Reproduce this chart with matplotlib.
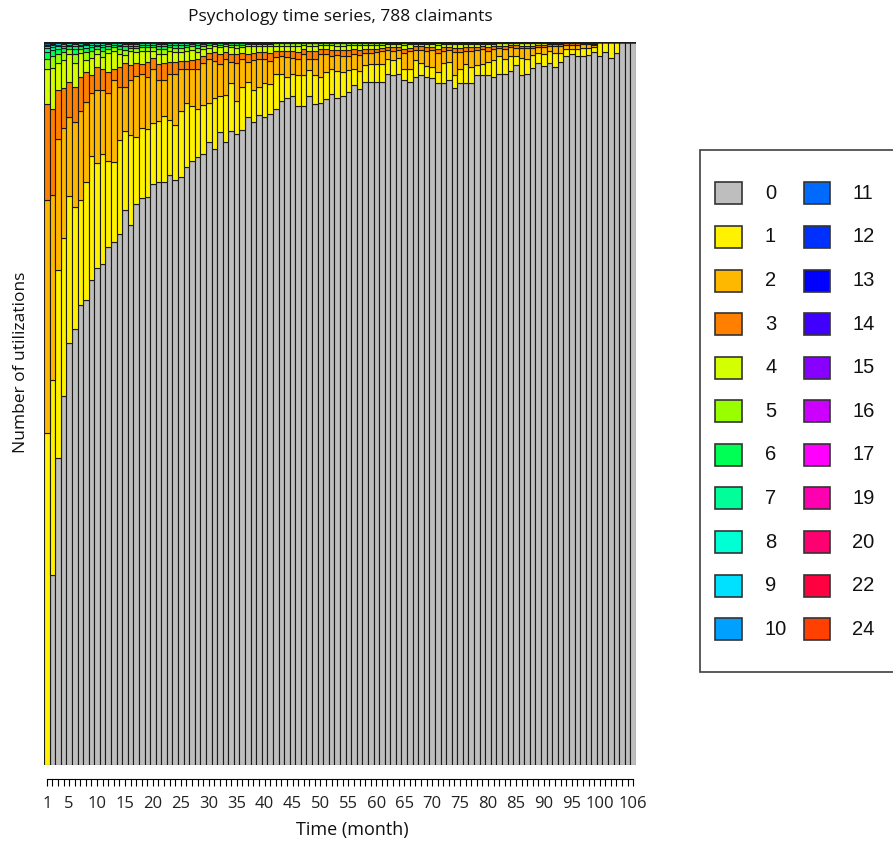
import numpy as np
import matplotlib
matplotlib.use("Agg")
import matplotlib.pyplot as plt
from matplotlib.patches import Rectangle

# ---------------- data (percent of claimants per month) ----------------
months = list(range(1, 107))

p0 = [0, 26.3, 42.4, 51.0, 58.3, 60.3, 63.6, 64.3, 67.0, 68.8,
      69.3, 71.7, 72.4, 73.4, 76.7, 74.7, 77.6, 78.4, 78.6, 80.4,
      80.7, 80.7, 81.6, 80.9, 81.3, 82.7, 83.5, 84.1, 84.5, 86.2,
      85.1, 87.5, 86.1, 87.7, 87.3, 87.8, 89.6, 88.9, 89.9, 89.6,
      90.1, 90.8, 91.9, 92.2, 92.5, 91.1, 91.1, 92.5, 91.4, 91.5,
      92.1, 92.8, 92.3, 92.5, 93.1, 94.0, 93.5, 94.4, 94.5, 94.5,
      94.5, 95.6, 95.4, 95.6, 94.8, 94.5, 95.2, 95.4, 95.1, 95.0,
      94.3, 94.3, 94.7, 93.7, 94.3, 94.3, 94.3, 95.5, 95.4, 95.4,
      95.1, 95.6, 95.6, 96.0, 96.8, 95.4, 95.6, 96.4, 97.1, 96.7,
      97.1, 96.6, 97.3, 98.0, 98.3, 98.1, 98.1, 98.2, 98.6, 98.1,
      98.6, 97.8, 98.5, 100, 100, 100]

p1 = [45.9, 27.0, 26.0, 21.8, 20.3, 16.9, 14.5, 16.3, 17.1, 14.4,
      15.2, 11.9, 11.0, 13.0, 11.0, 12.4, 9.3, 9.7, 9.4, 8.4,
      8.4, 9.1, 7.6, 7.6, 9.1, 8.8, 7.7, 6.7, 6.8, 5.4,
      7.1, 5.0, 6.6, 6.6, 4.6, 6.0, 4.8, 4.5, 3.9, 4.7,
      4.1, 4.8, 3.7, 2.9, 3.1, 4.4, 4.3, 3.6, 4.0, 3.6,
      3.7, 3.4, 3.7, 3.4, 3.0, 2.2, 2.5, 2.4, 2.5, 2.5,
      2.5, 2.1, 2.1, 2.2, 1.4, 1.7, 2.3, 1.7, 1.6, 1.6,
      1.6, 2.8, 2.6, 1.8, 2.0, 2.7, 2.3, 1.3, 1.6, 1.8,
      2.4, 2.4, 2.1, 2.1, 1.3, 2.4, 2.0, 1.8, 1.4, 1.6,
      1.7, 1.9, 1.2, 1.0, 0.8, 1.0, 1.1, 1.0, 0.7, 1.9,
      1.4, 2.2, 1.5, 0, 0, 0]

p2 = [32.3, 25.5, 18.2, 15.2, 11.0, 11.7, 12.4, 11.0, 8.7, 10.2,
      8.8, 9.4, 11.3, 7.4, 6.1, 7.6, 8.4, 7.5, 7.2, 7.4,
      5.6, 4.9, 6.4, 7.1, 5.8, 4.8, 5.0, 5.5, 5.8, 6.0,
      5.1, 4.5, 4.9, 3.0, 5.2, 3.8, 2.9, 4.1, 3.9, 3.3,
      3.2, 2.3, 2.5, 2.8, 2.2, 2.2, 3.0, 1.6, 2.3, 3.3,
      2.6, 1.9, 2.2, 2.2, 2.0, 2.1, 2.2, 1.7, 1.5, 1.6,
      1.7, 1.2, 1.3, 1.1, 2.3, 2.5, 1.4, 1.8, 2.1, 2.3,
      2.6, 1.7, 1.6, 3.1, 2.3, 1.8, 2.2, 2.1, 2.0, 1.6,
      1.5, 1.2, 1.4, 1.2, 1.1, 1.4, 1.6, 1.0, 0.8, 1.0,
      0.6, 0.9, 0.9, 0.6, 0.5, 0.5, 0.5, 0.5, 0.3, 0,
      0, 0, 0, 0, 0, 0]

p3 = [13.2, 12.0, 6.7, 5.6, 4.8, 4.8, 4.6, 4.2, 2.5, 3.2,
      3.0, 2.8, 1.6, 2.8, 3.3, 2.1, 1.8, 1.4, 2.0, 1.6,
      2.3, 2.4, 1.6, 1.7, 1.2, 1.1, 1.3, 1.3, 1.0, 0.9,
      1.2, 1.4, 1.0, 1.1, 1.2, 0.9, 1.0, 1.0, 0.9, 1.0,
      1.1, 0.9, 0.7, 0.8, 0.9, 0.9, 0.6, 1.0, 1.0, 0.6,
      0.6, 0.8, 0.7, 0.8, 0.8, 0.7, 0.7, 0.6, 0.6, 0.5,
      0.5, 0.4, 0.5, 0.4, 0.6, 0.5, 0.5, 0.5, 0.5, 0.4,
      0.6, 0.5, 0.4, 0.6, 0.6, 0.5, 0.5, 0.4, 0.4, 0.5,
      0.4, 0.3, 0.4, 0.3, 0.4, 0.3, 0.3, 0.3, 0.3, 0.3,
      0.3, 0.3, 0.3, 0.2, 0.2, 0.2, 0.1, 0.1, 0.1, 0,
      0, 0, 0, 0, 0, 0]

p4 = [4.9, 5.6, 3.8, 3.9, 3.9, 3.3, 3.4, 1.7, 2.4, 1.8,
      1.6, 2.7, 2.5, 1.8, 1.1, 1.9, 1.5, 1.8, 1.6, 1.0,
      1.4, 1.3, 1.6, 1.3, 1.2, 1.4, 1.4, 1.0, 0.9, 0.7,
      0.8, 0.9, 0.8, 0.9, 0.9, 0.8, 1.1, 0.9, 0.8, 0.8,
      0.9, 0.7, 0.7, 0.8, 0.8, 0.9, 0.6, 0.8, 0.8, 0.6,
      0.6, 0.7, 0.6, 0.6, 0.7, 0.6, 0.7, 0.5, 0.5, 0.5,
      0.4, 0.4, 0.4, 0.4, 0.5, 0.5, 0.3, 0.3, 0.4, 0.4,
      0.5, 0.4, 0.4, 0.5, 0.5, 0.4, 0.4, 0.4, 0.3, 0.4,
      0.3, 0.3, 0.3, 0.2, 0.2, 0.3, 0.3, 0.3, 0.2, 0.2,
      0.2, 0.2, 0.2, 0.1, 0.1, 0.1, 0.1, 0.1, 0.1, 0,
      0, 0, 0, 0, 0, 0]

p5 = [1.4, 1.7, 1.2, 1.0, 0.6, 1.3, 0.5, 1.0, 1.0, 0.6,
      0.9, 0.6, 0.5, 0.6, 0.7, 0.5, 0.6, 0.5, 0.5, 0.5,
      0.7, 0.7, 0.5, 0.6, 0.6, 0.5, 0.5, 0.6, 0.5, 0.4,
      0.3, 0.3, 0.3, 0.3, 0.4, 0.3, 0.3, 0.3, 0.3, 0.3,
      0.3, 0.3, 0.3, 0.3, 0.3, 0.3, 0.2, 0.3, 0.3, 0.2,
      0.2, 0.2, 0.3, 0.3, 0.2, 0.2, 0.2, 0.2, 0.2, 0.2,
      0.2, 0.2, 0.2, 0.2, 0.2, 0.2, 0.2, 0.2, 0.2, 0.2,
      0.2, 0.2, 0.2, 0.2, 0.2, 0.2, 0.2, 0.2, 0.2, 0.2,
      0.2, 0.1, 0.1, 0.1, 0.1, 0.1, 0.1, 0.1, 0.1, 0.1,
      0, 0, 0, 0, 0, 0, 0, 0, 0, 0,
      0, 0, 0, 0, 0, 0]

p6 = [0.9, 0.8, 0.7, 0.6, 0.4, 0.7, 0.4, 0.6, 0.5, 0.4,
      0.5, 0.4, 0.3, 0.4, 0.5, 0.3, 0.3, 0.3, 0.3, 0.3,
      0.4, 0.4, 0.3, 0.4, 0.4, 0.3, 0.3, 0.4, 0.2, 0.2,
      0.2, 0.2, 0.2, 0.2, 0.2, 0.2, 0.2, 0.2, 0.2, 0.2,
      0.2, 0.1, 0.1, 0.1, 0.1, 0.1, 0.1, 0.1, 0.1, 0.1,
      0.1, 0.1, 0.1, 0.1, 0.1, 0.1, 0.1, 0.1, 0.1, 0.1,
      0.1, 0.1, 0.1, 0.1, 0.1, 0.1, 0.1, 0.1, 0.1, 0.1,
      0.1, 0.1, 0.1, 0.1, 0.1, 0.1, 0.1, 0.1, 0.1, 0.1,
      0.1, 0.1, 0.1, 0.1, 0.1, 0.1, 0.1, 0.1, 0.1, 0.1,
      0.1, 0.1, 0.1, 0.1, 0.1, 0.1, 0.1, 0.1, 0.2, 0,
      0, 0, 0, 0, 0, 0]

p7 = [0.5, 0.4, 0.4, 0.3, 0.2, 0.4, 0.2, 0.4, 0.3, 0.2,
      0.3, 0.2, 0.2, 0.2, 0.3, 0.2, 0.2, 0.2, 0.2, 0.2,
      0.2, 0.2, 0.2, 0.2, 0.2, 0.2, 0.1, 0.2, 0.1, 0.1,
      0.1, 0.1, 0.1, 0.1, 0.1, 0.1, 0.1, 0.1, 0.1, 0.1,
      0.1, 0.1, 0.1, 0.1, 0.1, 0.1, 0.1, 0.1, 0.1, 0.1,
      0.1, 0.1, 0.1, 0.1, 0.1, 0.1, 0.1, 0.1, 0.1, 0.1,
      0.1, 0, 0, 0, 0.1, 0, 0, 0, 0, 0,
      0.1, 0, 0, 0, 0, 0, 0, 0, 0, 0,
      0, 0, 0, 0, 0, 0, 0, 0, 0, 0,
      0, 0, 0, 0, 0, 0, 0, 0, 0, 0,
      0, 0, 0, 0, 0, 0]

p8 = [0.3, 0.3, 0.2, 0.2, 0.2, 0.2, 0.2, 0.2, 0.2, 0.2,
      0.2, 0.1, 0.1, 0.2, 0.1, 0.1, 0.1, 0.1, 0.1, 0.1,
      0.1, 0.1, 0.1, 0.1, 0.1, 0.1, 0.1, 0.1, 0.1, 0.1,
      0, 0.1, 0, 0.1, 0.1, 0.1, 0, 0, 0, 0,
      0, 0, 0, 0, 0, 0, 0, 0, 0, 0,
      0, 0, 0, 0, 0, 0, 0, 0, 0, 0,
      0, 0, 0, 0, 0, 0, 0, 0, 0, 0,
      0, 0, 0, 0, 0, 0, 0, 0, 0, 0,
      0, 0, 0, 0, 0, 0, 0, 0, 0, 0,
      0, 0, 0, 0, 0, 0, 0, 0, 0, 0,
      0, 0, 0, 0, 0, 0]

p9 = [0.2, 0.2, 0.2, 0.2, 0.1, 0.2, 0.1, 0.1, 0.1, 0.1,
      0.1, 0.1, 0.1, 0.1, 0.1, 0.1, 0.1, 0.1, 0.1, 0.1,
      0.1, 0.1, 0.1, 0.1, 0.1, 0.1, 0.1, 0.1, 0.1, 0,
      0, 0, 0, 0, 0, 0, 0, 0, 0, 0,
      0, 0, 0, 0, 0, 0, 0, 0, 0, 0,
      0, 0, 0, 0, 0, 0, 0, 0, 0, 0,
      0, 0, 0, 0, 0, 0, 0, 0, 0, 0,
      0, 0, 0, 0, 0, 0, 0, 0, 0, 0,
      0, 0, 0, 0, 0, 0, 0, 0, 0, 0,
      0, 0, 0, 0, 0, 0, 0, 0, 0, 0,
      0, 0, 0, 0, 0, 0]

p10 = [0.2, 0.1, 0.1, 0.1, 0.1, 0.1, 0.1, 0.1, 0.1, 0.1,
       0.1, 0.1, 0, 0.1, 0.1, 0.1, 0.1, 0, 0, 0,
       0.1, 0.1, 0, 0, 0, 0, 0, 0, 0, 0,
       0, 0, 0, 0, 0, 0, 0, 0, 0, 0,
       0, 0, 0, 0, 0, 0, 0, 0, 0, 0,
       0, 0, 0, 0, 0, 0, 0, 0, 0, 0,
       0, 0, 0, 0, 0, 0, 0, 0, 0, 0,
       0, 0, 0, 0, 0, 0, 0, 0, 0, 0,
       0, 0, 0, 0, 0, 0, 0, 0, 0, 0,
       0, 0, 0, 0, 0, 0, 0, 0, 0, 0,
       0, 0, 0, 0, 0, 0]

# rare high counts: (category, month, percent)
high_cat = [11, 12, 13, 14, 15, 16, 17, 19, 20, 22, 24]
high_month = [1, 2, 1, 3, 2, 4, 1, 6, 2, 8, 1]
high_pct = [0.06, 0.05, 0.05, 0.05, 0.04, 0.04, 0.04, 0.04, 0.04, 0.04, 0.04]

categories = [0, 1, 2, 3, 4, 5, 6, 7, 8, 9, 10, 11, 12, 13, 14, 15, 16, 17, 19, 20, 22, 24]
colors = ["#BEBEBE", "#FFF200", "#FFB800", "#FF7F00", "#D4FF00", "#99FF00",
          "#00FF55", "#00FF99", "#00FFD5", "#00E1FF", "#00A0FF", "#006AFF",
          "#0030FF", "#0000FF", "#4000FF", "#8800FF", "#CC00FF", "#FF00FF",
          "#FF00B0", "#FF0070", "#FF0040", "#FF4000"]

title = "Psychology time series, 788 claimants"
xlab = "Time (month)"
ylab = "Number of utilizations"
tick_labels_shown = [1, 5, 10, 15, 20, 25, 30, 35, 40, 45, 50, 55, 60, 65, 70,
                     75, 80, 85, 90, 95, 100, 106]

# ---------------- assemble matrix ----------------
n = len(months)
base = [p0, p1, p2, p3, p4, p5, p6, p7, p8, p9, p10]
mat = np.zeros((len(categories), n))
for i, s in enumerate(base):
    mat[i] = np.array(s, dtype=float)
for c, m, v in zip(high_cat, high_month, high_pct):
    mat[categories.index(c), m - 1] += v
mat = mat / mat.sum(axis=0, keepdims=True)

# ---------------- figure ----------------
W, H = 893, 842
fig = plt.figure(figsize=(W / 100, H / 100), dpi=100)
L, R, T, B = 44, 636, 42, 765
ax = fig.add_axes([L / W, 1 - B / H, (R - L) / W, (B - T) / H])

x = np.arange(n) + 0.5
bottom = np.zeros(n)
for i in range(len(categories)):
    ax.bar(x, mat[i], width=1.0, bottom=bottom, color=colors[i],
           edgecolor="#1a1a1a", linewidth=0.8)
    bottom += mat[i]

ax.set_xlim(0, n)
ax.set_ylim(0, 1)
for s in ["top", "left", "right"]:
    ax.spines[s].set_visible(False)
ax.spines["bottom"].set_position(("outward", 10))
ax.spines["bottom"].set_bounds(x[0], x[-1])
ax.spines["bottom"].set_linewidth(0.8)
ax.set_yticks([])
ax.set_xticks(x)
ax.set_xticklabels([str(m) if m in tick_labels_shown else "" for m in months])
ax.tick_params(axis="x", length=5, width=0.8, pad=7, labelsize=12,
               labelcolor="#222222")
for t in ax.get_xticklabels():
    t.set_fontfamily("Open Sans")

fig.text(340 / W, 1 - 17 / H, title, ha="center", va="center",
         fontsize=12.5, family="Open Sans", color="#111111")
fig.text(352 / W, 1 - 830 / H, xlab, ha="center", va="center",
         fontsize=13, family="Open Sans", color="#111111")
fig.text(21 / W, 1 - 362 / H, ylab, ha="center", va="center", rotation=90,
         fontsize=12.5, family="Open Sans", color="#111111")

# ---------------- legend ----------------
def px(xp, yp):
    return xp / W, 1 - yp / H

lx0, ly0, ly1 = 700, 150, 672
fig.add_artist(Rectangle(px(lx0, ly1), (W + 10 - lx0) / W, (ly1 - ly0) / H,
                         transform=fig.transFigure, facecolor="white",
                         edgecolor="#404040", linewidth=1.2, clip_on=False))
row0, dy = 193.3, 43.6
cols = [(715, 742, 765), (803.5, 829.5, 852)]
for k, (cat, col) in enumerate(zip(categories, colors)):
    c = 0 if k < 11 else 1
    r = k if k < 11 else k - 11
    sx0, sx1, tx = cols[c]
    yc = row0 + r * dy
    fig.add_artist(Rectangle(px(sx0, yc + 11), (sx1 - sx0) / W, 22 / H,
                             transform=fig.transFigure, facecolor=col,
                             edgecolor="#333333", linewidth=1.2))
    fig.text(tx / W, 1 - yc / H, str(cat), ha="left", va="center",
             fontsize=14.5, family="Liberation Sans", color="#111111")

fig.savefig("out.png", dpi=100)
